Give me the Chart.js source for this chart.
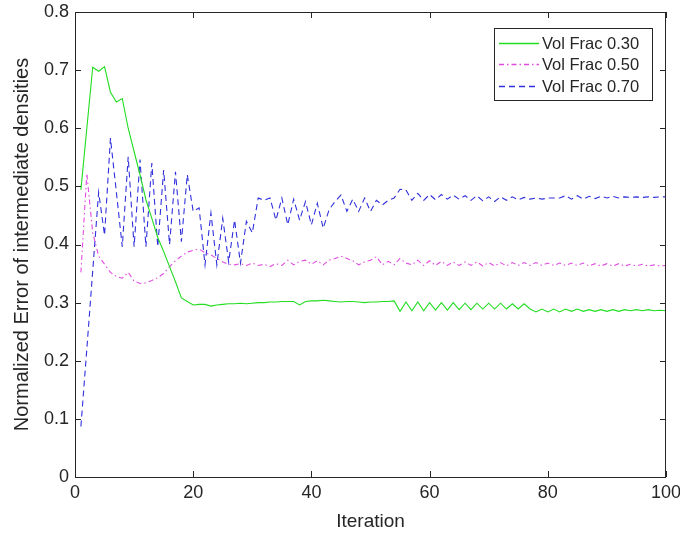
<!DOCTYPE html>
<html>
<head>
<meta charset="utf-8">
<script src="https://cdn.jsdelivr.net/npm/chart.js@4/dist/chart.umd.min.js"></script>
<style>
  html, body { margin: 0; padding: 0; background: #fff; }
  #wrap { width: 680px; height: 538px; position: relative; }
</style>
</head>
<body>
<div id="wrap"><canvas id="errChart"></canvas></div>
<script>
// Data (iteration 1..100)
const iterations = Array.from({ length: 100 }, (_, i) => i + 1);

const vf30 = [
  0.494, 0.600, 0.705, 0.698, 0.706, 0.662, 0.645, 0.651, 0.600, 0.560,
  0.520, 0.477, 0.445, 0.412, 0.388, 0.362, 0.336, 0.308, 0.302, 0.296,
  0.297, 0.297, 0.294, 0.296, 0.297, 0.298, 0.298, 0.299, 0.298, 0.299,
  0.300, 0.300, 0.301, 0.301, 0.302, 0.302, 0.302, 0.296, 0.302, 0.303,
  0.303, 0.304, 0.303, 0.302, 0.301, 0.302, 0.302, 0.301, 0.300, 0.301,
  0.301, 0.302, 0.302, 0.303, 0.285, 0.301, 0.286, 0.301, 0.286, 0.300,
  0.287, 0.300, 0.287, 0.300, 0.288, 0.299, 0.288, 0.299, 0.289, 0.299,
  0.289, 0.299, 0.289, 0.298, 0.289, 0.298, 0.289, 0.284, 0.289, 0.284,
  0.289, 0.284, 0.289, 0.285, 0.289, 0.285, 0.288, 0.285, 0.288, 0.285,
  0.288, 0.285, 0.288, 0.286, 0.288, 0.286, 0.288, 0.286, 0.287, 0.286
];

const vf50 = [
  0.352, 0.522, 0.420, 0.380, 0.366, 0.352, 0.345, 0.342, 0.352, 0.337,
  0.333, 0.334, 0.338, 0.343, 0.350, 0.362, 0.372, 0.380, 0.387, 0.390,
  0.392, 0.386, 0.382, 0.376, 0.370, 0.366, 0.365, 0.367, 0.364, 0.368,
  0.364, 0.366, 0.362, 0.367, 0.364, 0.373, 0.365, 0.371, 0.373, 0.366,
  0.372, 0.365, 0.373, 0.376, 0.380, 0.376, 0.372, 0.365, 0.370, 0.373,
  0.379, 0.365, 0.371, 0.365, 0.376, 0.368, 0.365, 0.373, 0.364, 0.372,
  0.364, 0.371, 0.364, 0.370, 0.364, 0.370, 0.364, 0.370, 0.363, 0.369,
  0.363, 0.369, 0.363, 0.369, 0.364, 0.369, 0.364, 0.369, 0.364, 0.368,
  0.364, 0.368, 0.364, 0.368, 0.364, 0.368, 0.363, 0.367, 0.363, 0.367,
  0.363, 0.367, 0.363, 0.366, 0.363, 0.366, 0.363, 0.365, 0.363, 0.364
];

const vf70 = [
  0.087, 0.220, 0.355, 0.490, 0.416, 0.583, 0.490, 0.396, 0.551, 0.396,
  0.546, 0.396, 0.540, 0.396, 0.528, 0.400, 0.525, 0.405, 0.520, 0.457,
  0.463, 0.365, 0.454, 0.365, 0.445, 0.370, 0.442, 0.368, 0.440, 0.420,
  0.480, 0.476, 0.480, 0.442, 0.480, 0.434, 0.478, 0.442, 0.474, 0.434,
  0.471, 0.428, 0.460, 0.474, 0.485, 0.457, 0.478, 0.457, 0.480, 0.457,
  0.476, 0.468, 0.476, 0.480, 0.495, 0.494, 0.476, 0.488, 0.476, 0.486,
  0.477, 0.486, 0.478, 0.485, 0.478, 0.484, 0.476, 0.484, 0.475, 0.482,
  0.474, 0.482, 0.476, 0.482, 0.477, 0.481, 0.478, 0.480, 0.478, 0.480,
  0.480, 0.480, 0.484, 0.478, 0.484, 0.478, 0.483, 0.479, 0.483, 0.480,
  0.483, 0.480, 0.482, 0.481, 0.482, 0.481, 0.482, 0.481, 0.482, 0.482
];

const seriesLabels = ['Vol Frac 0.30', 'Vol Frac 0.50', 'Vol Frac 0.70'];
const xTicks = [0, 20, 40, 60, 80, 100];
const xTickLabels = ['0', '20', '40', '60', '80', '100'];
const yTicks = [0, 0.1, 0.2, 0.3, 0.4, 0.5, 0.6, 0.7, 0.8];
const yTickLabels = ['0', '0.1', '0.2', '0.3', '0.4', '0.5', '0.6', '0.7', '0.8'];

const axisColor = '#262626';
const fontFamily = "'Liberation Sans', Arial, Helvetica, sans-serif";

function toPoints(values) {
  return values.map((v, i) => ({ x: iterations[i], y: v }));
}

// Box around the axes plus inward tick marks (MATLAB style)
const framePlugin = {
  id: 'frame',
  afterDraw(chart) {
    const { ctx, chartArea: a, scales } = chart;
    const tick = 6;
    ctx.save();
    ctx.strokeStyle = axisColor;
    ctx.lineWidth = 1;
    ctx.strokeRect(a.left + 0.5, a.top + 0.5, a.right - a.left - 1, a.bottom - a.top);
    ctx.beginPath();
    xTicks.forEach(v => {
      const px = Math.round(scales.x.getPixelForValue(v)) + 0.5;
      ctx.moveTo(px, a.bottom);
      ctx.lineTo(px, a.bottom - tick);
      ctx.moveTo(px, a.top);
      ctx.lineTo(px, a.top + tick);
    });
    yTicks.forEach(v => {
      const py = Math.round(scales.y.getPixelForValue(v)) + 0.5;
      ctx.moveTo(a.left, py);
      ctx.lineTo(a.left + tick, py);
      ctx.moveTo(a.right, py);
      ctx.lineTo(a.right - tick, py);
    });
    ctx.stroke();
    ctx.restore();
  }
};

// Legend box in the upper right corner of the axes
const legendPlugin = {
  id: 'boxLegend',
  afterDraw(chart) {
    const { ctx } = chart;
    const box = { x: 494, y: 28, w: 158, h: 72 };
    const rowY = [43, 64, 86];
    ctx.save();
    ctx.fillStyle = '#fff';
    ctx.fillRect(box.x, box.y, box.w, box.h);
    ctx.strokeStyle = axisColor;
    ctx.lineWidth = 1;
    ctx.strokeRect(box.x + 0.5, box.y + 0.5, box.w, box.h);
    chart.data.datasets.forEach((ds, i) => {
      ctx.beginPath();
      ctx.setLineDash(ds.borderDash || []);
      ctx.strokeStyle = ds.borderColor;
      ctx.lineWidth = 1.3;
      ctx.moveTo(499, rowY[i] + 0.5);
      ctx.lineTo(539, rowY[i] + 0.5);
      ctx.stroke();
      ctx.setLineDash([]);
      ctx.fillStyle = axisColor;
      ctx.font = '16.5px ' + fontFamily;
      ctx.textBaseline = 'middle';
      ctx.fillText(ds.label, 542, rowY[i] + 1);
    });
    ctx.restore();
  }
};

const ctx = document.getElementById('errChart').getContext('2d');
new Chart(ctx, {
  type: 'line',
  data: {
    datasets: [
      {
        label: seriesLabels[0],
        data: toPoints(vf30),
        borderColor: '#22dd22',
        borderWidth: 1.1,
        pointRadius: 0,
        tension: 0
      },
      {
        label: seriesLabels[1],
        data: toPoints(vf50),
        borderColor: '#e04ce0',
        borderWidth: 1.1,
        borderDash: [5, 3, 1.5, 3],
        pointRadius: 0,
        tension: 0
      },
      {
        label: seriesLabels[2],
        data: toPoints(vf70),
        borderColor: '#3030dc',
        borderWidth: 1.1,
        borderDash: [6, 4],
        pointRadius: 0,
        tension: 0
      }
    ]
  },
  options: {
    responsive: true,
    maintainAspectRatio: false,
    animation: false,
    layout: { padding: { top: 12, right: 14, left: 0, bottom: 0 } },
    plugins: {
      legend: { display: false },
      tooltip: { enabled: false }
    },
    scales: {
      x: {
        type: 'linear',
        min: 0,
        max: 100,
        afterFit: s => { s.height = 61; s.paddingRight = 0; s.paddingLeft = 0; },
        afterBuildTicks: s => { s.ticks = xTicks.map(v => ({ value: v })); },
        grid: { display: false, drawTicks: false },
        border: { display: false },
        ticks: {
          color: axisColor,
          padding: 5,
          maxRotation: 0,
          font: { family: fontFamily, size: 18 },
          callback: (v, i) => xTickLabels[i]
        },
        title: {
          display: true,
          text: 'Iteration',
          color: axisColor,
          padding: { top: 0, bottom: 5 },
          font: { family: fontFamily, size: 19 }
        }
      },
      y: {
        min: 0,
        max: 0.8,
        afterFit: s => { s.width = 75; s.paddingTop = 0; s.paddingBottom = 0; },
        afterBuildTicks: s => { s.ticks = yTicks.map(v => ({ value: v })); },
        grid: { display: false, drawTicks: false },
        border: { display: false },
        ticks: {
          color: axisColor,
          padding: 6,
          font: { family: fontFamily, size: 18 },
          callback: (v, i) => yTickLabels[i]
        },
        title: {
          display: true,
          text: 'Normalized Error of intermediate densities',
          color: axisColor,
          padding: { top: 10, bottom: 0 },
          font: { family: fontFamily, size: 20 }
        }
      }
    }
  },
  plugins: [framePlugin, legendPlugin]
});
</script>
</body>
</html>
